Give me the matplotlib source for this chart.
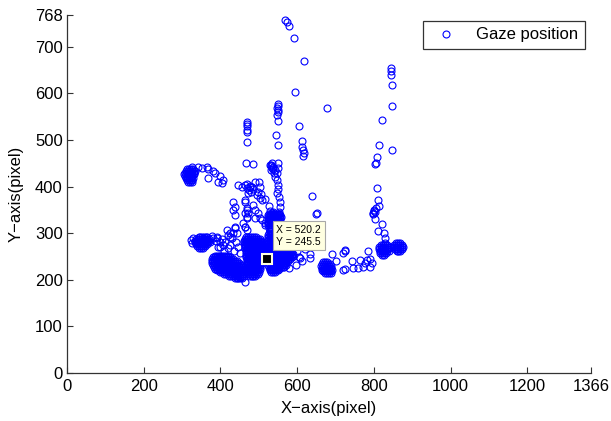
import matplotlib
matplotlib.use('Agg')
import matplotlib.pyplot as plt

# ---------------- data (gaze samples, screen pixels) ----------------
x_ticks = [0, 200, 400, 600, 800, 1000, 1200, 1366]
y_ticks = [0, 100, 200, 300, 400, 500, 600, 700, 768]
legend_label = "Gaze position"
cursor_xy = (520.2, 245.5)

top_trail = [(568, 757), (574, 753), (579, 744), (592, 718), (594, 603), (618, 669),
             (678, 568), (605, 530), (613, 498), (613, 485), (615, 478), (618, 472),
             (615, 465), (639, 380), (649, 341)]

col_550 = [(549, 577), (550, 572), (548, 568), (551, 564), (549, 560), (547, 553),
           (549, 541), (545, 510), (550, 489), (532, 446), (537, 442), (534, 439),
           (542, 435), (547, 429), (542, 420), (550, 450), (550, 439), (547, 414),
           (539, 429), (530, 447), (535, 450), (533, 444), (538, 437), (531, 436),
           (550, 403), (551, 395), (548, 386), (552, 377), (555, 366), (556, 356),
           (553, 345), (557, 335), (554, 325), (558, 315)]

col_470 = [(469, 538), (470, 534), (468, 529), (470, 522), (469, 516), (468, 495),
           (467, 450), (485, 448)]

left_arc = [(326, 442), (341, 442), (352, 440), (365, 442), (368, 438), (381, 433),
            (386, 429), (399, 423), (407, 414), (394, 410), (404, 408), (368, 418)]

left_blob_rows = [(438, [314, 319, 324, 329]),
                  (434, [310, 315, 320, 325, 330, 334]),
                  (430, [307, 312, 317, 322, 327, 332]),
                  (426, [306, 311, 316, 321, 326, 331]),
                  (422, [307, 312, 317, 322, 327]),
                  (418, [309, 314, 319, 324, 329]),
                  (414, [312, 317, 322, 327]),
                  (410, [315, 320, 325])]

mid_cluster = [(446, 403), (456, 399), (464, 404), (470, 406), (476, 402), (482, 398),
               (468, 396), (474, 392), (480, 388), (486, 394), (472, 386), (478, 400),
               (490, 410), (498, 388), (503, 375), (495, 382), (508, 371), (464, 371),
               (469, 350), (469, 335), (472, 343), (485, 360), (490, 350), (498, 343),
               (490, 332), (503, 332), (508, 328), (516, 322), (524, 322), (534, 332),
               (537, 345), (433, 367), (438, 356), (438, 339), (433, 350), (438, 313),
               (464, 313), (500, 409), (503, 398), (505, 385), (516, 374), (526, 359),
               (529, 348), (540, 342), (553, 342), (516, 317), (529, 328), (534, 343),
               (464, 367), (469, 354), (464, 343), (469, 332), (459, 322), (464, 313),
               (469, 307), (417, 307), (425, 292), (438, 311), (433, 300)]

left_arm_rows = [(292, [343, 348, 353, 358, 363]),
                 (288, [336, 341, 346, 351, 356, 361, 366, 371]),
                 (284, [333, 338, 343, 348, 353, 356, 361, 366, 371]),
                 (280, [333, 338, 343, 348, 353, 358, 363, 368, 372]),
                 (276, [336, 341, 346, 351, 356, 361, 366]),
                 (272, [340, 345, 350, 355, 360]),
                 (268, [345, 350, 355])]

bridge = [(322, 285), (326, 278), (328, 290), (380, 290), (392, 292), (388, 284),
          (405, 288), (398, 280), (420, 296), (430, 290), (412, 282), (365, 292),
          (378, 294), (391, 290), (407, 275), (394, 270), (425, 300), (443, 300),
          (440, 282), (425, 275), (445, 270), (435, 262), (420, 268), (450, 258),
          (410, 262), (400, 270), (463, 196)]

main_left_rows = [
    (252, [385, 390, 395, 400, 405, 410, 415, 420]),
    (248, [380, 385, 390, 395, 400, 405, 410, 415, 420, 425]),
    (244, [378, 383, 388, 393, 398, 403, 408, 413, 418, 423, 428, 433]),
    (240, [377, 382, 387, 392, 397, 402, 407, 412, 417, 422, 427, 432, 437, 442]),
    (236, [378, 383, 388, 393, 398, 403, 408, 413, 418, 423, 428, 433, 438, 443, 448]),
    (232, [380, 385, 390, 395, 400, 405, 410, 415, 420, 425, 430, 435, 440, 445, 450, 455]),
    (228, [383, 388, 393, 398, 403, 408, 413, 418, 423, 428, 433, 438, 443, 448, 453, 458]),
    (224, [387, 392, 397, 402, 407, 412, 417, 422, 427, 432, 437, 442, 447, 452, 457, 462]),
    (220, [392, 397, 402, 407, 412, 417, 422, 427, 432, 437, 442, 447, 452, 457, 462]),
    (216, [400, 405, 410, 415, 420, 425, 430, 435, 440, 445, 450, 455, 460]),
    (212, [410, 415, 420, 425, 430, 435, 440, 445, 450, 455, 460]),
    (208, [422, 427, 432, 437, 442, 447, 452, 457, 462]),
    (204, [437, 442, 447, 452, 457])]

main_mid_rows = [
    (292, [467, 472, 477, 482, 487, 492]),
    (288, [463, 468, 473, 478, 483, 488, 493, 498, 503]),
    (284, [461, 466, 471, 476, 481, 486, 491, 496, 501, 506]),
    (280, [462, 467, 472, 477, 482, 487, 492, 497, 502, 507, 512]),
    (276, [463, 468, 473, 478, 483, 488, 493, 498, 503, 508, 513]),
    (272, [464, 469, 474, 479, 484, 489, 494, 499, 504, 509, 514]),
    (268, [465, 470, 475, 480, 485, 490, 495, 500, 505, 510, 515]),
    (264, [466, 471, 476, 481, 486, 491, 496, 501, 506, 511]),
    (260, [466, 471, 476, 481, 486, 491, 496, 501, 506, 511, 516]),
    (256, [467, 472, 477, 482, 487, 492, 497, 502, 507, 512, 517]),
    (252, [467, 472, 477, 482, 487, 492, 497, 502, 507, 512]),
    (248, [467, 472, 477, 482, 487, 492, 497, 502, 507]),
    (244, [468, 473, 478, 483, 488, 493, 498, 503, 508]),
    (240, [468, 473, 478, 483, 488, 493, 498, 503, 508, 513]),
    (236, [469, 474, 479, 484, 489, 494, 499, 504, 509]),
    (232, [468, 473, 478, 483, 488, 493, 498, 503]),
    (228, [469, 474, 479, 484, 489, 494, 499, 504]),
    (224, [468, 473, 478, 483, 488, 493, 498, 503]),
    (220, [469, 474, 479, 484, 489, 494, 499]),
    (216, [470, 475, 480, 485, 490, 495, 500]),
    (212, [472, 477, 482, 487, 492, 497]),
    (208, [476, 481, 486, 491])]

main_right_rows = [
    (342, [527, 532, 537, 542, 547, 552]),
    (338, [525, 530, 535, 540, 545, 550, 555]),
    (334, [525, 530, 535, 540, 545, 550, 555]),
    (330, [526, 531, 536, 541, 546, 551, 556]),
    (326, [525, 530, 535, 540, 545, 550]),
    (322, [526, 531, 536, 541]),
    (318, [525, 530, 535]),
    (312, [527, 532]),
    (304, [528, 533]),
    (300, [527, 532, 537, 542, 547]),
    (296, [525, 530, 535, 540, 545, 550, 555]),
    (292, [525, 530, 535, 540, 545, 550, 555, 560]),
    (288, [526, 531, 536, 541, 546, 551, 556, 561]),
    (284, [525, 530, 535, 540, 545, 550, 555, 560, 565]),
    (280, [526, 531, 536, 541, 546, 551, 556, 561, 566]),
    (276, [525, 530, 535, 540, 545, 550, 555, 560, 565]),
    (272, [526, 531, 536, 541, 546, 551, 556, 561, 566, 571]),
    (268, [525, 530, 535, 540, 545, 550, 555, 560, 565, 570, 575]),
    (264, [526, 531, 536, 541, 546, 551, 556, 561, 566, 571, 576, 581]),
    (260, [525, 530, 535, 540, 545, 550, 555, 560, 565, 570, 575, 580, 585]),
    (256, [526, 531, 536, 541, 546, 551, 556, 561, 566, 571, 576, 581, 586, 590]),
    (252, [525, 530, 535, 540, 545, 550, 555, 560, 565, 570, 575, 580, 585, 590]),
    (248, [527, 532, 537, 542, 547, 552, 557, 562, 567, 572, 577, 582, 587]),
    (244, [527, 532, 537, 542, 547, 552, 557, 562, 567, 572, 577, 582]),
    (240, [527, 532, 537, 542, 547, 552, 557, 562, 567, 572, 577]),
    (236, [527, 532, 537, 542, 547, 552, 557, 562, 567, 572]),
    (232, [525, 530, 535, 540, 545, 550, 555, 560, 565, 570]),
    (228, [527, 532, 537, 542, 547, 552, 557, 562, 565]),
    (224, [528, 533, 538, 543, 548, 553]),
    (220, [530, 535, 540, 545, 550]),
    (216, [533, 538, 543])]

right_of_main = [(600, 262), (605, 248), (597, 232), (612, 240), (580, 225),
                 (608, 247), (634, 247), (634, 256), (620, 265)]

blob_680_rows = [(238, [668, 673, 678]),
                 (234, [665, 670, 675, 680, 685]),
                 (230, [663, 668, 673, 678, 683, 688]),
                 (226, [664, 669, 674, 679, 684, 689]),
                 (222, [666, 671, 676, 681, 686, 691]),
                 (218, [668, 673, 678, 683, 688]),
                 (214, [672, 677, 682, 687])]

trail_750 = [(652, 343), (690, 256), (700, 241), (720, 257), (720, 221), (725, 264),
             (725, 262), (785, 262), (743, 240), (764, 242), (782, 242), (725, 223),
             (746, 225), (759, 225), (772, 227), (777, 236), (789, 228), (795, 236),
             (790, 245)]

right_column = [(808, 397), (811, 371), (813, 358), (800, 347), (798, 341), (803, 330),
                (811, 305), (821, 320), (826, 300), (829, 290), (829, 279), (824, 268),
                (824, 262), (808, 463), (805, 450), (803, 448), (813, 489), (847, 478),
                (821, 543), (847, 573), (845, 654), (845, 648), (845, 639), (847, 618),
                (800, 350), (803, 345), (806, 355), (797, 343), (840, 262), (845, 270)]

right_blob_rows = [(274, [818, 823, 828, 833]),
                   (270, [814, 819, 824, 829, 834, 839]),
                   (266, [813, 818, 823, 828, 833, 838]),
                   (262, [815, 820, 825, 830, 835]),
                   (258, [817, 822, 827, 832]),
                   (254, [821, 826])]

far_right_rows = [(278, [858, 863, 868]),
                  (274, [853, 858, 863, 868, 873]),
                  (270, [852, 857, 862, 867, 872, 877]),
                  (266, [854, 859, 864, 869, 874]),
                  (262, [859, 864, 869])]

# ---------------- assemble ----------------
point_groups = [top_trail, col_550, col_470, left_arc, mid_cluster, bridge,
                right_of_main, trail_750, right_column]
row_groups = [left_blob_rows, left_arm_rows, main_left_rows, main_mid_rows,
              main_right_rows, blob_680_rows, right_blob_rows, far_right_rows]

gx, gy = [], []
for grp in point_groups:
    for px, py in grp:
        gx.append(px)
        gy.append(py)
for grp in row_groups:
    for yv, xs in grp:
        for xv in xs:
            gx.append(xv)
            gy.append(yv)

# ---------------- plot ----------------
plt.rcParams['font.family'] = ['Liberation Sans', 'DejaVu Sans']

fig = plt.figure(figsize=(6.11, 4.21), dpi=100)
ax = fig.add_axes([67 / 611, 48 / 421, 524 / 611, 358 / 421])

ax.plot(gx, gy, 'o', linestyle='none', markerfacecolor='none',
        markeredgecolor='#0000FF', markersize=5, markeredgewidth=0.8,
        label=legend_label)

ax.set_xlim(x_ticks[0], x_ticks[-1])
ax.set_ylim(y_ticks[0], y_ticks[-1])
ax.set_xticks(x_ticks)
ax.set_yticks(y_ticks)
ax.set_xticklabels([str(t) for t in x_ticks])
ax.set_yticklabels([str(t) for t in y_ticks])

for s in ['top', 'right']:
    ax.spines[s].set_visible(False)
for s in ['left', 'bottom']:
    ax.spines[s].set_color('#333333')
    ax.spines[s].set_linewidth(0.9)

ax.tick_params(axis='both', direction='in', length=4, width=0.8,
               color='#333333', labelsize=12, labelcolor='black')
ax.tick_params(axis='x', pad=4)
ax.tick_params(axis='y', pad=3)

ax.set_xlabel('X\u2212axis(pixel)', fontsize=12, labelpad=5)
ax.set_ylabel('Y\u2212axis(pixel)', fontsize=12, labelpad=8)

leg = ax.legend(loc='upper right', fontsize=12, frameon=True, fancybox=False,
                borderaxespad=0.35, handletextpad=0.8)
leg.get_frame().set_edgecolor('black')
leg.get_frame().set_linewidth(0.9)

# data cursor
ax.plot([cursor_xy[0]], [cursor_xy[1]], 's', markersize=7,
        markerfacecolor='black', markeredgecolor='#FFFFE1',
        markeredgewidth=1.5, zorder=5)
ax.annotate('X = %.1f\nY = %.1f' % cursor_xy, xy=cursor_xy,
            xytext=(7, 8.5), textcoords='offset points', ha='left', va='bottom',
            fontsize=7.5, linespacing=1.25, zorder=6,
            bbox=dict(boxstyle='square,pad=0.35', fc='#FFFFE1', ec='#A8A8A8', lw=0.8))

fig.savefig('out.png', dpi=100)
